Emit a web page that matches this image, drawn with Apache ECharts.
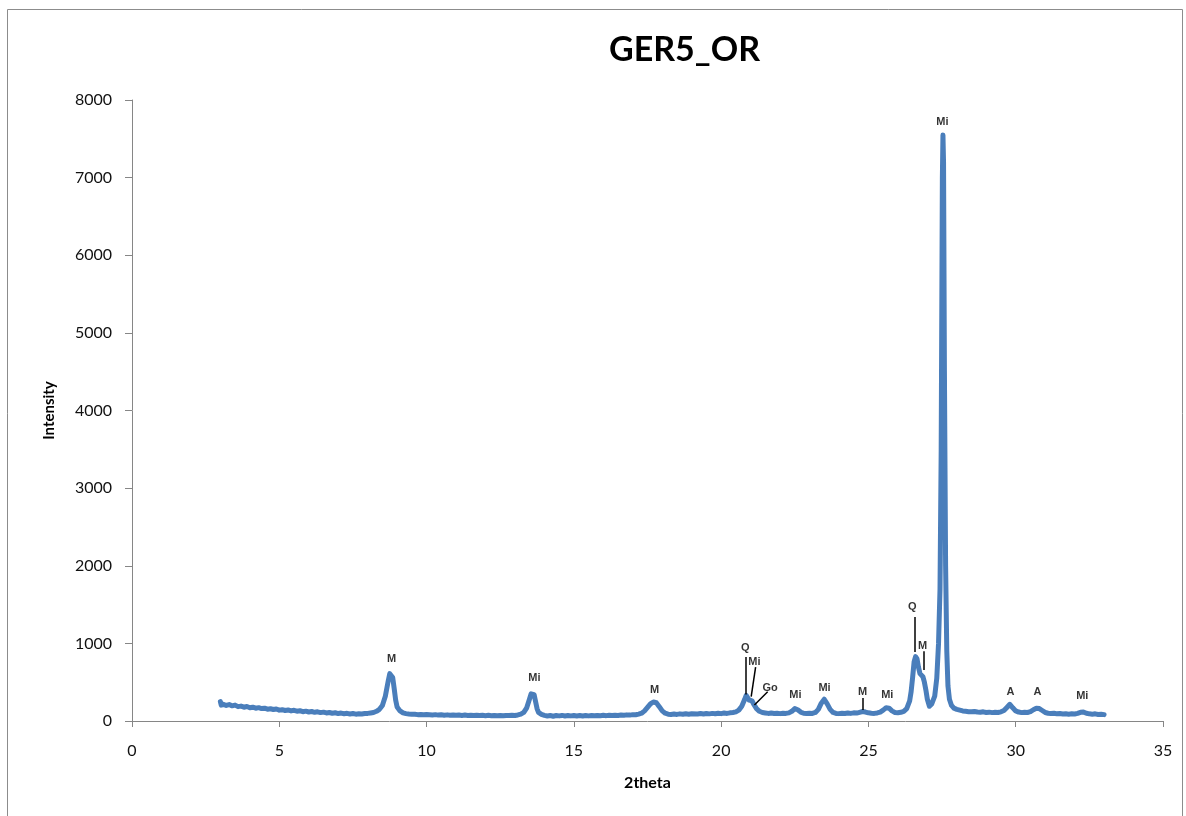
<!DOCTYPE html>
<html>
<head>
<meta charset="utf-8">
<script src="https://cdn.jsdelivr.net/npm/echarts@6/dist/echarts.min.js"></script>
<style>
html,body{margin:0;padding:0;background:#fff;}
#chart{width:1186px;height:816px;}
</style>
</head>
<body>
<div id="chart"></div>
<script>
const chartTitle = 'GER5_OR';
const xAxisName = '2theta';
const yAxisName = 'Intensity';

const twoTheta = [
3.00,3.03,3.06,3.1,3.2,3.3,3.4,3.5,3.6,3.7,3.8,3.9,4.0,4.1,4.2,4.3,4.4,4.5,4.6,4.7,4.8,4.9,
5.0,5.1,5.2,5.3,5.4,5.5,5.6,5.7,5.8,5.9,6.0,6.1,6.2,6.3,6.4,6.5,6.6,6.7,6.8,6.9,
7.0,7.1,7.2,7.3,7.4,7.5,7.6,7.7,7.8,7.9,8.0,8.1,8.2,8.3,8.4,8.5,8.6,8.7,8.75,8.8,8.85,8.9,8.95,
9.0,9.1,9.2,9.3,9.4,9.5,9.6,9.7,9.8,9.9,10.0,10.2,10.3,10.4,10.5,10.6,10.7,10.8,10.9,
11.0,11.1,11.2,11.3,11.4,11.5,11.6,11.7,11.8,11.9,12.0,12.1,12.2,12.3,12.4,12.5,12.6,12.7,12.8,12.9,
13.0,13.1,13.2,13.3,13.4,13.5,13.55,13.6,13.65,13.7,13.75,13.8,13.9,14.0,14.1,14.2,14.3,14.4,14.5,14.6,14.7,14.8,14.9,
15.0,15.1,15.2,15.3,15.4,15.5,15.6,15.7,15.8,15.9,16.0,16.1,16.2,16.3,16.4,16.5,16.6,16.7,16.8,16.9,
17.0,17.1,17.2,17.3,17.4,17.5,17.6,17.7,17.75,17.8,17.9,18.0,18.1,18.2,18.3,18.4,18.5,18.6,18.7,18.8,18.9,
19.0,19.2,19.3,19.4,19.5,19.6,19.7,19.8,19.9,20.0,20.1,20.2,20.3,20.4,20.5,20.6,20.7,20.8,20.85,20.9,20.95,
21.0,21.05,21.1,21.2,21.3,21.4,21.5,21.6,21.7,21.8,21.9,22.0,22.1,22.2,22.3,22.4,22.5,22.55,22.6,22.7,22.8,22.9,
23.0,23.1,23.2,23.3,23.4,23.5,23.55,23.6,23.7,23.8,23.9,24.0,24.1,24.2,24.3,24.4,24.5,24.6,24.7,24.8,24.9,
25.0,25.1,25.2,25.3,25.4,25.5,25.6,25.65,25.7,25.8,25.9,26.0,26.1,26.2,26.3,26.4,26.45,26.5,26.55,26.6,26.65,26.7,26.75,26.8,26.85,26.9,26.95,
27.0,27.07,27.15,27.25,27.32,27.38,27.43,27.47,27.51,27.53,27.55,27.58,27.62,27.66,27.7,27.75,27.82,27.9,
28.0,28.1,28.2,28.3,28.4,28.5,28.6,28.7,28.8,28.9,29.0,29.1,29.2,29.3,29.4,29.5,29.6,29.7,29.8,29.85,29.9,
30.0,30.1,30.2,30.3,30.4,30.5,30.6,30.7,30.75,30.8,30.9,31.0,31.1,31.2,31.3,31.4,31.5,31.6,31.7,31.8,31.9,
32.0,32.1,32.2,32.25,32.3,32.4,32.5,32.6,32.7,32.8,32.9,33.0
];

const intensity = [
250,205,230,215,200,212,195,205,185,192,178,186,170,178,165,172,160,165,152,158,148,155,
140,146,135,142,130,138,126,132,120,127,116,122,112,118,108,114,104,110,100,106,
96,102,94,99,90,96,88,94,90,96,98,104,110,125,150,200,320,520,610,630,560,420,270,
180,130,105,95,90,86,88,82,85,80,83,78,82,76,80,75,79,74,78,
73,77,72,76,71,75,70,74,70,73,69,73,68,72,68,71,67,72,70,74,
72,78,88,110,170,290,350,375,340,250,160,110,85,72,65,70,62,70,66,72,64,70,66,
71,65,70,64,70,66,71,67,72,68,73,69,74,70,75,72,77,74,79,76,
82,80,88,100,130,175,220,245,248,235,185,130,100,88,84,90,85,92,86,93,88,
94,90,96,90,97,92,98,93,100,95,102,98,105,110,118,140,190,280,330,310,270,
285,260,220,160,125,110,104,98,102,96,100,95,100,98,105,125,160,165,145,115,100,96,
100,98,110,150,230,280,270,220,150,110,98,95,100,96,103,98,105,102,112,122,115,
105,100,98,104,115,140,170,175,165,130,110,106,112,125,160,260,380,560,760,830,800,690,610,590,570,500,400,
280,190,220,320,550,1000,1700,3500,7000,7550,7200,4500,2000,900,450,280,200,165,
150,140,130,125,120,118,122,115,112,118,110,114,108,112,110,118,135,175,215,205,170,
130,115,108,112,110,120,145,165,168,160,135,110,100,96,100,92,96,90,94,88,92,
90,98,112,120,115,100,92,88,92,84,88,82
];

// peak annotations: phase label, label position (2theta, intensity)
const peakLabels = ['M','Mi','M','Q','Mi','Go','Mi','Mi','M','Mi','Q','M','Mi','A','A','Mi'];
const peakLabelX = [8.81,13.66,17.74,20.82,21.13,21.66,22.52,23.51,24.8,25.64,26.49,26.84,27.51,29.82,30.74,32.26];
const peakLabelY = [800,555,400,940,760,425,335,425,375,335,1470,965,7720,375,375,320];

// leader lines: [x1, y1, x2, y2] in data units
const leaderX1 = [20.84,21.17,21.58,24.8,26.58,26.87];
const leaderY1 = [825,695,378,296,1340,900];
const leaderX2 = [20.84,21.02,21.13,24.8,26.58,26.87];
const leaderY2 = [340,313,206,142,890,657];

const seriesData = twoTheta.map((x, i) => [x, intensity[i]]);
const labelData = peakLabels.map((n, i) => ({ value: [peakLabelX[i], peakLabelY[i]], name: n }));
const leaderData = leaderX1.map((x, i) => ({ coords: [[x, leaderY1[i]], [leaderX2[i], leaderY2[i]]] }));

const chart = echarts.init(document.getElementById('chart'), null, { renderer: 'canvas' });
chart.setOption({
  animation: false,
  backgroundColor: '#ffffff',
  title: {
    text: chartTitle,
    left: 604,
    top: 28,
    textStyle: { fontFamily: 'Lato', fontWeight: 'bold', fontSize: 34, color: '#000' }
  },
  graphic: [{
    type: 'rect',
    shape: { x: 7.5, y: 9.5, width: 1175, height: 820 },
    style: { fill: 'none', stroke: '#8c8c8c', lineWidth: 1 },
    silent: true
  }],
  grid: { left: 132, right: 23, top: 100, bottom: 95, containLabel: false },
  xAxis: {
    type: 'value',
    min: 0, max: 35, interval: 5,
    name: xAxisName,
    nameLocation: 'middle',
    nameGap: 54,
    nameTextStyle: { fontFamily: 'Lato', fontWeight: 'bold', fontSize: 16, color: '#000' },
    axisLine: { show: true, lineStyle: { color: '#868686', width: 1 } },
    axisTick: { show: true, inside: false, length: 6, lineStyle: { color: '#868686' } },
    axisLabel: { margin: 22, fontFamily: 'Lato', fontSize: 16, color: '#111' },
    splitLine: { show: false }
  },
  yAxis: {
    type: 'value',
    min: 0, max: 8000, interval: 1000,
    name: yAxisName,
    nameLocation: 'middle',
    nameGap: 75,
    nameRotate: 90,
    nameTextStyle: { fontFamily: 'Lato', fontWeight: 'bold', fontSize: 15, color: '#000' },
    axisLine: { show: true, lineStyle: { color: '#868686', width: 1 } },
    axisTick: { show: true, inside: false, length: 7, lineStyle: { color: '#868686' } },
    axisLabel: { margin: 20, fontFamily: 'Lato', fontSize: 16, color: '#111', formatter: v => String(v) },
    splitLine: { show: false }
  },
  series: [
    {
      name: 'GER5_OR',
      type: 'line',
      data: seriesData,
      showSymbol: false,
      symbol: 'none',
      lineStyle: { color: '#4a7ebb', width: 5, join: 'round', cap: 'round' },
      z: 2
    },
    {
      name: 'leaders',
      type: 'lines',
      coordinateSystem: 'cartesian2d',
      data: leaderData,
      lineStyle: { color: '#000', width: 1.5, opacity: 1 },
      silent: true,
      z: 3
    },
    {
      name: 'phases',
      type: 'scatter',
      data: labelData,
      symbolSize: 0,
      silent: true,
      label: {
        show: true,
        position: 'inside',
        formatter: p => p.name,
        fontFamily: 'Liberation Sans',
        fontWeight: 'bold',
        fontSize: 11,
        color: '#000'
      },
      z: 4
    }
  ]
});
</script>
</body>
</html>
